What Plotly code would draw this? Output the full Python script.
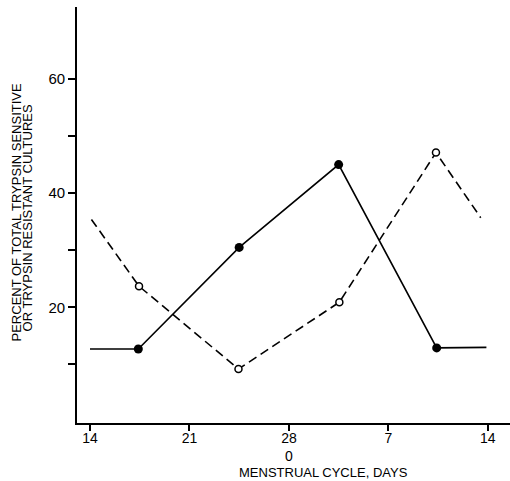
import plotly.graph_objects as go

# Day position along axis (0 = day 14 of previous cycle, 14 = day 28/0, 28 = day 14)
sensitive_days = [0, 3.4, 10.5, 17.5, 24.4, 27.9]
sensitive_vals = [12.7, 12.7, 30.5, 45.0, 12.9, 13.0]

resistant_days = [0.1, 3.45, 10.45, 17.55, 24.35, 27.5]
resistant_vals = [35.4, 23.7, 9.2, 20.9, 47.1, 35.7]

x_tickvals = [0, 7, 14, 21, 28]
x_ticktext = ["14", "21", "28<br>0", "7", "14"]
y_tickvals = [20, 40, 60]
y_minorvals = [10, 30, 50]

FONT = "Liberation Sans, Arial, sans-serif"

fig = go.Figure()

# solid line (filled circles)
fig.add_trace(go.Scatter(x=sensitive_days, y=sensitive_vals, mode="lines",
                         line=dict(color="black", width=1.6), showlegend=False))
fig.add_trace(go.Scatter(x=sensitive_days[1:-1], y=sensitive_vals[1:-1], mode="markers",
                         marker=dict(symbol="circle", size=9, color="black"), showlegend=False))

# dashed line (open circles)
fig.add_trace(go.Scatter(x=resistant_days, y=resistant_vals, mode="lines",
                         line=dict(color="black", width=1.6, dash="9px,5px"), showlegend=False))
fig.add_trace(go.Scatter(x=resistant_days[1:-1], y=resistant_vals[1:-1], mode="markers",
                         marker=dict(symbol="circle", size=7, color="white",
                                     line=dict(color="black", width=1.5)), showlegend=False))

fig.update_layout(
    width=510, height=481,
    margin=dict(l=77, r=0, t=7, b=58),
    paper_bgcolor="white", plot_bgcolor="white",
    font=dict(family=FONT, color="black"),
    xaxis=dict(range=[-0.915, 29.56], showgrid=False, zeroline=False,
               showline=True, linecolor="black", linewidth=1.6,
               ticks="outside", ticklen=6, tickwidth=1.5, tickcolor="black",
               ticklabelstandoff=-5,
               tickvals=x_tickvals, ticktext=x_ticktext,
               tickfont=dict(family=FONT, size=14, color="black")),
    yaxis=dict(range=[-0.25, 72.6], showgrid=False, zeroline=False,
               showline=True, linecolor="black", linewidth=1.6,
               ticks="outside", ticklen=7, tickwidth=1.5, tickcolor="black",
               tickvals=y_tickvals,
               tickfont=dict(family=FONT, size=15, color="black"),
               minor=dict(tickvals=y_minorvals, ticks="outside", ticklen=7,
                          tickwidth=1.5, tickcolor="black", showgrid=False)),
    annotations=[
        dict(text="PERCENT OF TOTAL TRYPSIN SENSITIVE", xref="paper", yref="paper",
             x=-0.1386, y=0.506, xanchor="center", yanchor="middle", textangle=-90,
             showarrow=False, font=dict(family=FONT, size=13, color="black")),
        dict(text="OR TRYPSIN RESISTANT CULTURES", xref="paper", yref="paper",
             x=-0.1143, y=0.493, xanchor="center", yanchor="middle", textangle=-90,
             showarrow=False, font=dict(family=FONT, size=13, color="black")),
        dict(text="MENSTRUAL CYCLE, DAYS", xref="paper", yref="paper",
             x=0.5704, y=-0.119, xanchor="center", yanchor="middle",
             showarrow=False, font=dict(family=FONT, size=13, color="black")),
    ],
)

fig.write_html("out.html", config={"displayModeBar": False},
               post_script="document.body.style.margin='0';document.body.style.padding='0';")
